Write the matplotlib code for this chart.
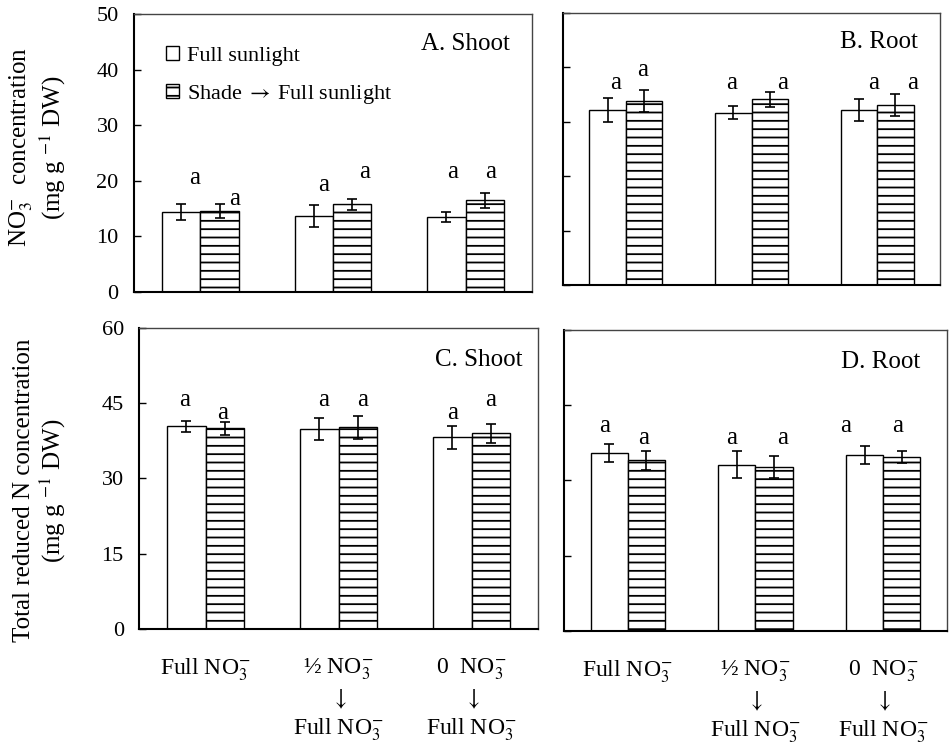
import numpy as np
import matplotlib
matplotlib.use("Agg")
import matplotlib.pyplot as plt
from matplotlib.patches import Patch

plt.rcParams['font.family'] = ['Liberation Serif', 'DejaVu Serif']
plt.rcParams['mathtext.fontset'] = 'stix'
plt.rcParams['hatch.linewidth'] = 1.3

treatments = ["Full NO$_3^{-}$",
              "½ NO$_3^{-}$\n$\\downarrow$\nFull NO$_3^{-}$",
              "0  NO$_3^{-}$\n$\\downarrow$\nFull NO$_3^{-}$"]
light = ["Full sunlight", "Shade$\\;\\rightarrow\\;$Full sunlight"]

# NO3- concentration (mg g-1 DW)
shoot_no3_sun = [14.4, 13.7, 13.5]
shoot_no3_sun_err = [1.5, 2.0, 0.9]
shoot_no3_shade = [14.6, 15.8, 16.5]
shoot_no3_shade_err = [1.3, 1.0, 1.4]
root_no3_sun = [32.2, 31.7, 32.2]
root_no3_sun_err = [2.2, 1.2, 2.0]
root_no3_shade = [33.8, 34.1, 33.1]
root_no3_shade_err = [2.0, 1.3, 2.1]

# total reduced N concentration (mg g-1 DW)
shoot_n_sun = [40.4, 39.9, 38.2]
shoot_n_sun_err = [1.1, 2.2, 2.3]
shoot_n_shade = [40.0, 40.2, 39.0]
shoot_n_shade_err = [1.3, 2.3, 1.9]
root_n_sun = [35.4, 33.1, 35.0]
root_n_sun_err = [1.8, 2.7, 1.8]
root_n_shade = [34.0, 32.6, 34.7]
root_n_shade_err = [1.9, 2.2, 1.2]

# significance letters: sun / shade for each treatment
letters_sun = ["a", "a", "a"]
letters_shade = ["a", "a", "a"]

FS = 16
W = 0.29


def panel(ax, sun, sun_err, shade, shade_err, ymax, step, title, title_x,
          spots, show_y=True, show_x=False):
    x = np.arange(len(sun))
    ax.bar(x - W/2, sun, W, color='white', edgecolor='black', linewidth=1.0,
           label=light[0])
    ax.bar(x + W/2, shade, W, color='white', edgecolor='black', linewidth=1.0,
           hatch='--', label=light[1])
    ek = dict(fmt='none', ecolor='black', elinewidth=1.2, capsize=3.5,
              capthick=1.2)
    ax.errorbar(x - W/2, sun, yerr=sun_err, **ek)
    ax.errorbar(x + W/2, shade, yerr=shade_err, **ek)

    # letters sit near each bar; (dx, y) nudges per bar
    for i in range(len(x)):
        (dx1, y1), (dx2, y2) = spots[2*i], spots[2*i + 1]
        ax.text(x[i] - W/2 + dx1, y1, letters_sun[i], ha='center',
                va='center', fontsize=18)
        ax.text(x[i] + W/2 + dx2, y2, letters_shade[i], ha='center',
                va='center', fontsize=18)

    ax.set_xlim(-0.5, 2.5)
    ax.set_ylim(0, ymax)
    ax.set_yticks(np.arange(0, ymax + step/2, step))
    ax.tick_params(axis='y', direction='in', length=5, width=1.0,
                   labelsize=FS, pad=11, labelleft=show_y)
    ax.tick_params(axis='x', length=0, labelsize=17, pad=20)
    if show_x:
        ax.set_xticks(x)
        ax.set_xticklabels(treatments, linespacing=1.3)
    else:
        ax.set_xticks([])
    for s in ['left', 'bottom']:
        ax.spines[s].set_linewidth(1.5)
        ax.spines[s].set_color('black')
    for s in ['top', 'right']:
        ax.spines[s].set_linewidth(1.0)
        ax.spines[s].set_color('#444444')
    ax.text(title_x, 0.893, title, transform=ax.transAxes, ha='right',
            va='center', fontsize=18)


fig = plt.figure(figsize=(9.53, 7.47), dpi=100)
axA = fig.add_axes([0.1406, 0.609, 0.4176, 0.3722])
axB = fig.add_axes([0.5908, 0.6185, 0.3956, 0.3641])
axC = fig.add_axes([0.1459, 0.158, 0.4187, 0.403])
axD = fig.add_axes([0.5918, 0.1553, 0.4019, 0.403])

panel(axA, shoot_no3_sun, shoot_no3_sun_err, shoot_no3_shade,
      shoot_no3_shade_err, 50, 10, "A. Shoot", 0.945,
      [(0.10, 20.5), (0.11, 16.7), (0.075, 19.2), (0.09, 21.6),
       (0.045, 21.6), (0.04, 21.6)])
panel(axB, root_no3_sun, root_no3_sun_err, root_no3_shade,
      root_no3_shade_err, 50, 10, "B. Root", 0.942,
      [(0.065, 37.1), (-0.015, 39.5), (-0.015, 37.1), (0.10, 37.1),
       (0.12, 37.1), (0.135, 37.1)], show_y=False)
panel(axC, shoot_n_sun, shoot_n_sun_err, shoot_n_shade, shoot_n_shade_err,
      60, 15, "C. Shoot", 0.96,
      [(-0.015, 45.7), (-0.02, 43.1), (0.03, 45.7), (0.035, 45.7),
       (0.0, 43.1), (0.0, 45.7)], show_x=True)
panel(axD, root_n_sun, root_n_sun_err, root_n_shade, root_n_shade_err,
      60, 15, "D. Root", 0.93,
      [(-0.035, 40.9), (-0.025, 38.5), (-0.045, 38.5), (0.065, 38.5),
       (-0.15, 40.9), (-0.035, 40.9)], show_y=False, show_x=True)

axA.set_ylabel("NO$_3^{-}$  concentration\n(mg g $^{-1}$ DW)", fontsize=18,
               linespacing=1.1)
axA.yaxis.set_label_coords(-0.166, 0.52)
axC.set_ylabel("Total reduced N concentration\n(mg g $^{-1}$ DW)",
               fontsize=18, linespacing=1.1)
axC.yaxis.set_label_coords(-0.178, 0.46)

handles = [Patch(facecolor='white', edgecolor='black', label=light[0]),
           Patch(facecolor='white', edgecolor='black', hatch='--',
                 label=light[1])]
axA.legend(handles=handles, loc='upper left', bbox_to_anchor=(0.08, 0.885),
           frameon=False, fontsize=FS, handlelength=0.6,
           handleheight=0.6, handletextpad=0.35, labelspacing=0.75,
           borderaxespad=0, borderpad=0)

fig.savefig("out.png", dpi=100)
